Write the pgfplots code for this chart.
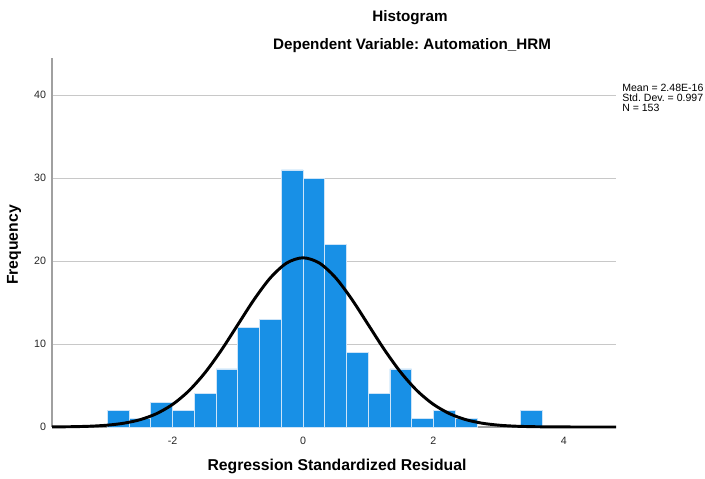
\documentclass[border=0pt]{standalone}
\usepackage{fontspec}
\setmainfont{Liberation Sans}
\usepackage{pgfplots}
\pgfplotsset{compat=1.18}
\frenchspacing

\definecolor{barblue}{RGB}{24,144,230}
\definecolor{baredge}{RGB}{205,228,248}
\definecolor{gridgray}{RGB}{200,200,200}
\definecolor{axgray}{RGB}{160,160,160}

\begin{document}
\begin{tikzpicture}[x=1pt,y=1pt]
  % page frame: 705 x 478 px at 0.75pt per px, origin at the axis corner
  \path (-39,-38.25) rectangle (489.75,320.25);
  \begin{axis}[
      at={(0,0)}, anchor=south west,
      scale only axis,
      width=423pt, height=276.75pt,
      xmin=-3.85, xmax=4.8,
      ymin=0, ymax=44.5,
      clip=false,
      axis x line*=bottom, axis y line*=left,
      axis line style={axgray, line width=1pt},
      xtick={-2,0,2,4},
      ytick={0,10,20,30,40},
      major tick length=0pt,
      ymajorgrids=true,
      grid style={gridgray, line width=0.8pt},
      tick label style={font=\fontsize{8}{9}\selectfont, text=black!85},
      /pgf/number format/assume math mode=true,
      xticklabel style={yshift=-4pt},
      yticklabel style={xshift=-1pt},
    ]
    % histogram bins, width 1/3
    \addplot[ybar interval, fill=barblue, draw=baredge, line width=0.6pt]
      coordinates {
        (-3,2) (-2.6667,1) (-2.3333,3) (-2,2) (-1.6667,4) (-1.3333,7)
        (-1,12) (-0.6667,13) (-0.3333,31) (0,30) (0.3333,22) (0.6667,9)
        (1,4) (1.3333,7) (1.6667,1) (2,2) (2.3333,1) (2.6667,1)
      };
    \addplot[ybar interval, fill=barblue, draw=baredge, line width=0.6pt]
      coordinates {(3.3333,2) (3.6667,2)};
    % normal curve, mean 0, sd 0.997, N 153
    \addplot[black, line width=2.2pt, smooth] coordinates {
      (-3.85,0.012) (-3.75,0.017) (-3.5,0.043) (-3.25,0.100) (-3,0.221)
      (-2.75,0.455) (-2.5,0.880) (-2.25,1.599) (-2,2.729) (-1.75,4.372)
      (-1.5,6.580) (-1.25,9.299) (-1,12.341) (-0.75,15.379) (-0.5,17.996)
      (-0.25,19.776) (0,20.407) (0.25,19.776) (0.5,17.996) (0.75,15.379)
      (1,12.341) (1.25,9.299) (1.5,6.580) (1.75,4.372) (2,2.729)
      (2.25,1.599) (2.5,0.880) (2.75,0.455) (3,0.221) (3.25,0.100)
      (3.5,0.043) (3.75,0.017) (4,0.007) (4.25,0.002) (4.5,0.001) (4.8,0)
    };
  \end{axis}
  % titles
  \node[font=\fontsize{11.4}{13}\selectfont\bfseries] at (268.5,306.75) {Histogram};
  \node[font=\fontsize{11.4}{13}\selectfont\bfseries] at (270,285.75) {Dependent Variable: Automation\_HRM};
  % summary statistics
  \node[anchor=north west, inner sep=0pt, align=left,
        font=\fontsize{7.9}{7.6}\selectfont] at (427.5,257.5)
    {Mean = 2.48E-16\\Std. Dev. = 0.997\\N = 153};
  % axis titles
  \node[font=\fontsize{11.8}{13}\selectfont\bfseries] at (213.75,-29.5) {Regression Standardized Residual};
  \node[font=\fontsize{11.8}{13}\selectfont\bfseries, rotate=90] at (-28.5,136.5) {Frequency};
\end{tikzpicture}
\end{document}
